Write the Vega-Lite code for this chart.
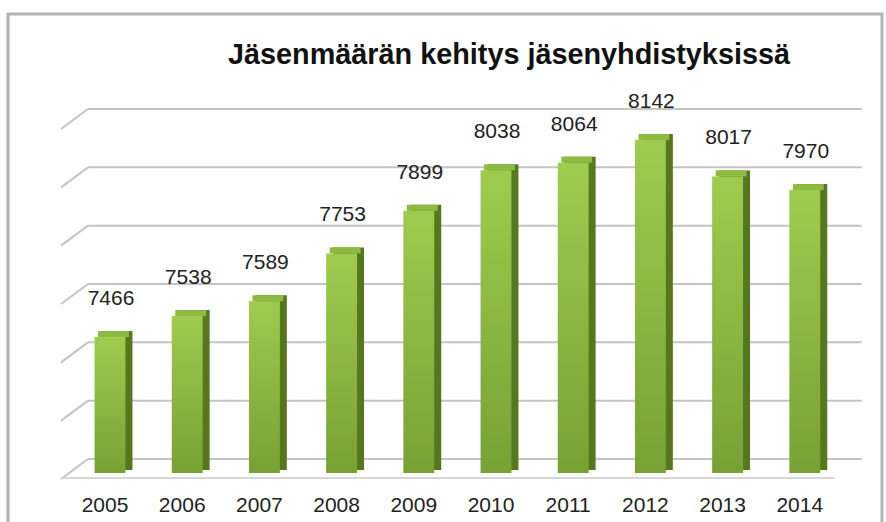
{
  "$schema": "https://vega.github.io/schema/vega-lite/v6.json",
  "width": 886,
  "height": 522,
  "autosize": {"type": "fit", "contains": "padding"},
  "padding": {"left": 8, "top": 14, "right": 4, "bottom": -10},
  "background": "white",
  "title": {
    "text": "Jäsenmäärän kehitys jäsenyhdistyksissä",
    "font": "Liberation Sans Narrow, Liberation Sans, sans-serif",
    "fontSize": 28.8,
    "fontWeight": "bold",
    "color": "#111111",
    "anchor": "middle",
    "baseline": "middle",
    "offset": 0,
    "dx": 64,
    "dy": 70
  },
  "config": {
    "view": {"stroke": "#b3b3b3", "strokeWidth": 3},
    "text": {"font": "Liberation Sans Narrow, Liberation Sans, sans-serif"}
  },
  "datasets": {
    "members": [
      {"year": "2005", "value": 7466},
      {"year": "2006", "value": 7538},
      {"year": "2007", "value": 7589},
      {"year": "2008", "value": 7753},
      {"year": "2009", "value": 7899},
      {"year": "2010", "value": 8038},
      {"year": "2011", "value": 8064},
      {"year": "2012", "value": 8142},
      {"year": "2013", "value": 8017},
      {"year": "2014", "value": 7970}
    ],
    "grid": [
      {"v": 7000}, {"v": 7200}, {"v": 7400}, {"v": 7600}, {"v": 7800}, {"v": 8000}, {"v": 8200}
    ]
  },
  "encoding": {
    "x": {
      "field": "year",
      "type": "ordinal",
      "scale": {"range": [63.4, 835.4], "paddingInner": 0.6, "paddingOuter": 0.3},
      "axis": {
        "title": null,
        "orient": "bottom",
        "offset": -38,
        "domain": false,
        "ticks": false,
        "grid": false,
        "labelPadding": 0,
        "labelBaseline": "top",
        "labelAngle": 0,
        "labelFont": "Liberation Sans Narrow, Liberation Sans, sans-serif",
        "labelFontSize": 21,
        "labelColor": "#222222",
        "labelOffset": -5
      }
    }
  },
  "layer": [
    {
      "data": {"name": "grid"},
      "mark": {"type": "rule", "color": "#c4c4c4", "strokeWidth": 2, "xOffset": -22, "x2Offset": 57},
      "encoding": {
        "x": {"datum": "2005", "type": "ordinal"},
        "x2": {"datum": "2014"},
        "y": {"field": "v", "type": "quantitative", "scale": {"domain": [7000, 8200], "range": [445, 95], "zero": false, "nice": false}, "axis": null}
      }
    },
    {
      "data": {"name": "grid"},
      "mark": {"type": "rule", "color": "#c4c4c4", "strokeWidth": 2, "xOffset": -22, "x2Offset": -49, "y2Offset": 20},
      "encoding": {
        "x": {"datum": "2005", "type": "ordinal"},
        "x2": {"datum": "2005"},
        "y": {"field": "v", "type": "quantitative"},
        "y2": {"field": "v"}
      }
    },
    {
      "data": {"values": [{"v": 7000}]},
      "mark": {"type": "rule", "color": "#d6d6d6", "strokeWidth": 2, "xOffset": -49, "x2Offset": 30, "yOffset": 19},
      "encoding": {
        "x": {"datum": "2005", "type": "ordinal"},
        "x2": {"datum": "2014"},
        "y": {"field": "v", "type": "quantitative"}
      }
    },
    {
      "data": {"name": "members"},
      "mark": {"type": "bar", "xOffset": 7, "yOffset": 8, "y2Offset": 11, "color": "#55781f"},
      "encoding": {
        "y": {"field": "value", "type": "quantitative"},
        "y2": {"datum": 7000}
      }
    },
    {
      "data": {"name": "members"},
      "mark": {"type": "bar", "xOffset": 3.5, "yOffset": 8, "y2Offset": 14, "color": "#8dba40"},
      "encoding": {
        "y": {"field": "value", "type": "quantitative"},
        "y2": {"field": "value"}
      }
    },
    {
      "data": {"name": "members"},
      "mark": {
        "type": "bar",
        "yOffset": 14,
        "y2Offset": 14,
        "color": {
          "gradient": "linear",
          "x1": 0, "y1": 0, "x2": 0, "y2": 1,
          "stops": [
            {"offset": 0, "color": "#9fcb4e"},
            {"offset": 1, "color": "#78a134"}
          ]
        }
      },
      "encoding": {
        "y": {"field": "value", "type": "quantitative"},
        "y2": {"datum": 7000}
      }
    },
    {
      "data": {"name": "members"},
      "mark": {"type": "text", "yOffset": -24, "dx": 1, "baseline": "middle", "fontSize": 21, "color": "#222222"},
      "encoding": {
        "y": {"field": "value", "type": "quantitative"},
        "text": {"field": "value", "type": "quantitative", "format": "d"}
      }
    }
  ]
}
